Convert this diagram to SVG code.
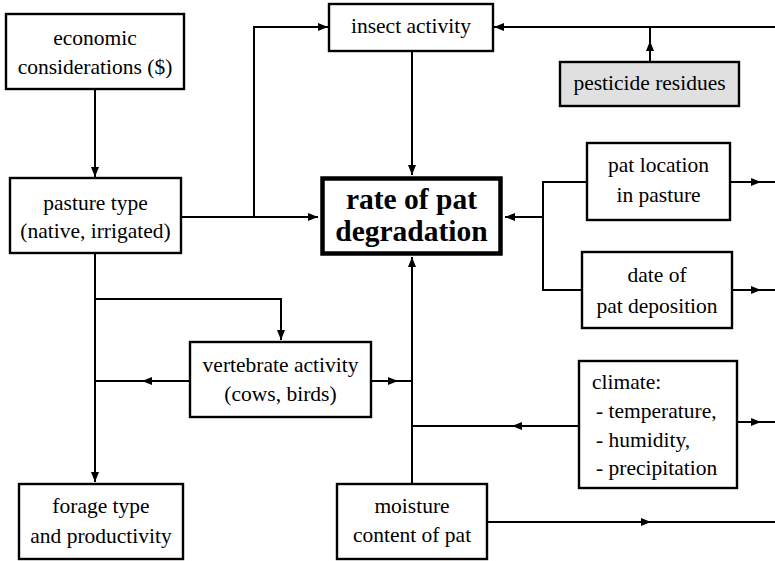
<svg xmlns="http://www.w3.org/2000/svg" width="775" height="561" viewBox="0 0 775 561">
<style>
.box{fill:#fff;stroke:#000;stroke-width:2.4}
.gray{fill:#e0e0e0}
.main{fill:#fff;stroke:#000;stroke-width:4.5}
text{font-family:'Liberation Serif','DejaVu Serif',serif;fill:#000}
.t{font-size:21.5px;text-anchor:middle}
.tl{text-anchor:start}
.tb{font-size:29.5px;font-weight:bold;text-anchor:middle}
.c{fill:none;stroke:#000;stroke-width:2}
</style>
<defs>
<marker id="ah" markerUnits="userSpaceOnUse" markerWidth="10" markerHeight="8" refX="10" refY="4" orient="auto">
<path d="M0,0 L10,4 L0,8 z" fill="#000"/>
</marker>
</defs>
<rect width="775" height="561" fill="#fff"/>
<g id="connectors">
<path class="c" d="M95,89 V177" marker-end="url(#ah)"/>
<path class="c" d="M181,217 H318" marker-end="url(#ah)"/>
<path class="c" d="M254,217 V27 H328" marker-end="url(#ah)"/>
<path class="c" d="M775,27 H494" marker-end="url(#ah)"/>
<path class="c" d="M650,62 V41" marker-end="url(#ah)"/>
<path class="c" d="M650,42 V27"/>
<path class="c" d="M412,51 V175" marker-end="url(#ah)"/>
<path class="c" d="M587,182 H543 V290 H582"/>
<path class="c" d="M543,217 H505" marker-end="url(#ah)"/>
<path class="c" d="M730,182 H761" marker-end="url(#ah)"/>
<path class="c" d="M760,182 H775"/>
<path class="c" d="M732,290 H761" marker-end="url(#ah)"/>
<path class="c" d="M760,290 H775"/>
<path class="c" d="M95,253 V482" marker-end="url(#ah)"/>
<path class="c" d="M95,299 H281 V340" marker-end="url(#ah)"/>
<path class="c" d="M190,381 H142" marker-end="url(#ah)"/>
<path class="c" d="M143,381 H95"/>
<path class="c" d="M371,381 H398" marker-end="url(#ah)"/>
<path class="c" d="M397,381 H412"/>
<path class="c" d="M412,484 V257" marker-end="url(#ah)"/>
<path class="c" d="M579,426 H512" marker-end="url(#ah)"/>
<path class="c" d="M513,426 H412"/>
<path class="c" d="M737,422 H761" marker-end="url(#ah)"/>
<path class="c" d="M760,422 H775"/>
<path class="c" d="M487,522 H651" marker-end="url(#ah)"/>
<path class="c" d="M650,522 H775"/>
</g>
<g id="economic">
<rect class="box" x="6" y="14" width="178" height="75"/>
<text class="t" x="95" y="45">economic</text>
<text class="t" x="95" y="74">considerations ($)</text>
</g>
<g id="pasture">
<rect class="box" x="10" y="178" width="171" height="75"/>
<text class="t" x="95.5" y="210">pasture type</text>
<text class="t" x="95.5" y="238">(native, irrigated)</text>
</g>
<g id="insect">
<rect class="box" x="329" y="4" width="164" height="47"/>
<text class="t" x="411" y="33">insect activity</text>
</g>
<g id="pesticide">
<rect class="box gray" x="560" y="62" width="179" height="44"/>
<text class="t" x="649.5" y="90">pesticide residues</text>
</g>
<g id="rate">
<rect class="main" x="322.5" y="178.5" width="178" height="75"/>
<text class="tb" x="411.5" y="209">rate of pat</text>
<text class="tb" x="411.5" y="241">degradation</text>
</g>
<g id="patlocation">
<rect class="box" x="587" y="143" width="143" height="77"/>
<text class="t" x="658.5" y="172">pat location</text>
<text class="t" x="658.5" y="202">in pasture</text>
</g>
<g id="date">
<rect class="box" x="582" y="252" width="150" height="76"/>
<text class="t" x="657" y="282">date of</text>
<text class="t" x="657" y="313">pat deposition</text>
</g>
<g id="vertebrate">
<rect class="box" x="190" y="342" width="181" height="75"/>
<text class="t" x="280.5" y="372">vertebrate activity</text>
<text class="t" x="280.5" y="401">(cows, birds)</text>
</g>
<g id="climate">
<rect class="box" x="579" y="361" width="158" height="127"/>
<text class="t tl" x="592" y="389">climate:</text>
<text class="t tl" x="596" y="418">- temperature,</text>
<text class="t tl" x="596" y="447">- humidity,</text>
<text class="t tl" x="596" y="475">- precipitation</text>
</g>
<g id="forage">
<rect class="box" x="19" y="484" width="164" height="75"/>
<text class="t" x="101" y="513">forage type</text>
<text class="t" x="101" y="543">and productivity</text>
</g>
<g id="moisture">
<rect class="box" x="337" y="484" width="150" height="75"/>
<text class="t" x="412" y="513">moisture</text>
<text class="t" x="412" y="542">content of pat</text>
</g>
</svg>
